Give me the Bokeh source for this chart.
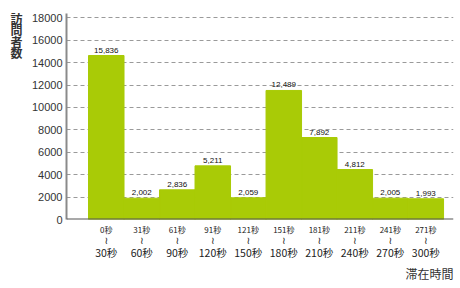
from bokeh.plotting import figure
from bokeh.models import (ColumnDataSource, LabelSet, Label, Span, FixedTicker,
                          Range1d, LinearAxis, Title)
from bokeh.core.properties import value
from bokeh.embed import file_html
from bokeh.resources import INLINE

# ---- data ----
range_start = ["0秒", "31秒", "61秒", "91秒", "121秒", "151秒", "181秒", "211秒", "241秒", "271秒"]
range_mark = ["≀"] * 10
range_end = ["30秒", "60秒", "90秒", "120秒", "150秒", "180秒", "210秒", "240秒", "270秒", "300秒"]
value_labels = ["15,836", "2,002", "2,836", "5,211", "2,059", "12,489", "7,892", "4,812", "2,005", "1,993"]
bar_heights = [14640, 1900, 2650, 4790, 1940, 11520, 7320, 4460, 1900, 1850]
y_ticks = [0, 2000, 4000, 6000, 8000, 10000, 12000, 14000, 16000, 18000]
y_title = "訪問者数"
x_title = "滞在時間"

# ---- layout ----
W, H = 460, 288
LEFT, RIGHT, TOP, BOTTOM = 66, 7, 13, 69
X0, X1 = -0.62, len(bar_heights) + 0.28
Y0, Y1 = 0, 18390

CJK = "Noto Sans CJK JP"
LAT = "Liberation Sans"

centers = [i + 0.5 for i in range(len(bar_heights))]
src = ColumnDataSource(dict(x=centers, top=bar_heights, lab=value_labels))

p = figure(width=W, height=H, output_backend="svg", toolbar_location=None,
           x_range=Range1d(X0, X1), y_range=Range1d(Y0, Y1),
           x_axis_location=None,
           min_border_left=LEFT, min_border_right=RIGHT,
           min_border_top=TOP, min_border_bottom=BOTTOM)
p.outline_line_color = None
p.background_fill_color = "white"
p.border_fill_color = "white"

p.vbar(x="x", top="top", width=1.0, bottom=0, source=src,
       fill_color="#a9cb06", line_color="#a9cb06", line_width=1)

p.xgrid.visible = False
p.ygrid.ticker = FixedTicker(ticks=y_ticks[1:])
p.ygrid.grid_line_color = "#9a9a9a"
p.ygrid.grid_line_dash = "4 3"
p.ygrid.grid_line_width = 1

ax = p.yaxis[0]
ax.ticker = FixedTicker(ticks=y_ticks)
ax.axis_line_color = "#8a8a8a"
ax.axis_line_width = 2
ax.major_tick_line_color = None
ax.minor_tick_line_color = None
ax.major_tick_out = 0
ax.major_tick_in = 0
ax.minor_tick_out = 0
ax.major_label_standoff = 4
ax.major_label_text_font = LAT
ax.major_label_text_font_size = "11px"
ax.major_label_text_color = "#333333"

# category axes: three stacked rows (start / wave / end)
def cat_axis(labels, font, size, standoff):
    a = LinearAxis(ticker=FixedTicker(ticks=centers),
                   major_label_overrides={c: t for c, t in zip(centers, labels)})
    a.axis_line_color = None
    a.major_tick_line_color = None
    a.minor_tick_line_color = None
    a.major_tick_out = 0
    a.major_tick_in = 0
    a.minor_tick_out = 0
    a.major_label_standoff = standoff
    a.major_label_text_font = font
    a.major_label_text_font_size = size
    a.major_label_text_color = "#222222"
    return a

p.add_layout(cat_axis(range_start, CJK, "8px", 4), "below")
p.add_layout(cat_axis(range_mark, "DejaVu Sans", "10px", -3), "below")
p.add_layout(cat_axis(range_end, CJK, "10.5px", -4), "below")
p.add_layout(Title(text=x_title, align="right", text_font=CJK, text_font_size="12px",
                   text_font_style="normal", text_color="#333333", standoff=0), "below")

p.add_layout(Span(location=0, dimension="width", line_color="#555555", line_width=2))

p.add_layout(LabelSet(x="x", y="top", text="lab", source=src, y_offset=3,
                      text_align="center", text_baseline="bottom",
                      text_font=value(LAT), text_font_size="8px", text_color="#111111"))

p.add_layout(Label(x=0, y=H - TOP - BOTTOM + 4, x_units="screen", y_units="screen",
                   text="\n".join(y_title), text_align="center", text_baseline="top",
                   text_font=CJK, text_font_size="12px", text_font_style="bold",
                   text_line_height=0.68, text_color="#333333"), "left")

open("out.html", "w").write(file_html(p, INLINE))
